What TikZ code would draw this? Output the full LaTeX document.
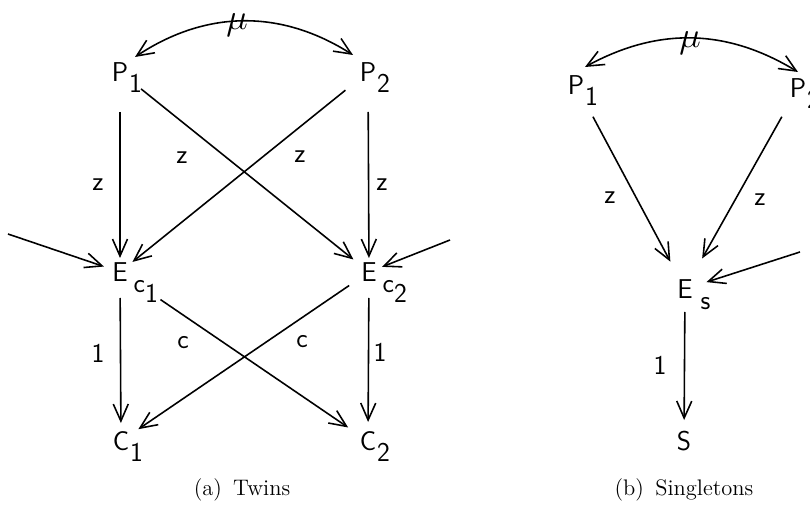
\documentclass[tikz,border=0pt]{standalone}
\usepackage{tikz}
\usetikzlibrary{arrows.meta}
\tikzset{
  lett/.style={font=\sffamily\fontsize{15.5}{18}\selectfont, inner sep=0pt},
  lbl/.style={font=\sffamily\fontsize{15.5}{18}\selectfont, inner sep=0pt},
  mulbl/.style={font=\fontsize{20}{22}\selectfont, inner sep=0pt},
  capt/.style={font=\rmfamily\fontsize{12.8}{15}\selectfont, inner sep=0pt},
  arr/.style={-{Straight Barb[length=3.4mm,width=3mm]}, line width=0.9pt},
  barr/.style={{Straight Barb[length=3.4mm,width=3mm]}-{Straight Barb[length=3.4mm,width=3mm]}, line width=0.9pt}
}
% low subscript that takes no room in the node
\newcommand{\lsub}[2][0pt]{\rlap{\smash{\hspace{#1}\raisebox{-6.5pt}{#2}}}}

\begin{document}
\begin{tikzpicture}[x=0.2mm, y=0.2mm]
  \useasboundingbox (0,0) rectangle (810,-516);

  % (a) twins
  \node[lett] (p1) at (120,-72) {P\lsub[0.5pt]{1}};
  \node[lett] (p2) at (368,-72) {P\lsub[0.5pt]{2}};
  \node[lett] (ec1) at (120,-272) {E\lsub[3.4pt]{c\raisebox{-5.6pt}{1}}};
  \node[lett] (ec2) at (369,-272) {E\lsub[3.4pt]{c\raisebox{-5.6pt}{2}}};
  \node[lett] (c1) at (121,-441) {C\lsub[0.5pt]{1}};
  \node[lett] (c2) at (368,-441) {C\lsub[0.5pt]{2}};
  \coordinate (inl) at (8,-234);
  \coordinate (inr) at (450,-240);

  \node[mulbl] (mua) at (237,-25) {$\mu$};
  \draw[barr] ([shift={(15,15)}]p1.center) to[bend left=33] ([shift={(-15,17)}]p2.center);

  \draw[arr, shorten <=8mm, shorten >=2.8mm] (p1.center) -- (ec1.center);
  \draw[arr, shorten <=8mm, shorten >=2.8mm] (p2.center) -- (ec2.center);
  \draw[arr, shorten <=5.4mm, shorten >=4mm] (p1.center) -- (ec2.center);
  \draw[arr, shorten <=5.8mm, shorten >=3.2mm] (p2.center) -- (ec1.center);
  \draw[arr, shorten >=3.4mm] (inl) -- (ec1.center);
  \draw[arr, shorten >=2.8mm] (inr) -- (ec2.center);
  \draw[arr, shorten <=5.2mm, shorten >=3.6mm] (ec1.center) -- (c1.center);
  \draw[arr, shorten <=5.2mm, shorten >=3.8mm] (ec2.center) -- (c2.center);
  \draw[arr, shorten <=9.8mm, shorten >=4.8mm] (ec1.center) -- (c2.center);
  \draw[arr, shorten <=4.8mm, shorten >=4.2mm] (ec2.center) -- (c1.center);

  \node[lbl] (z1) at (98,-185) {z};
  \node[lbl] (z2) at (182,-158) {z};
  \node[lbl] (z3) at (300,-157) {z};
  \node[lbl] (z4) at (382,-185) {z};
  \node[lbl] (k1) at (183,-343) {c};
  \node[lbl] (k2) at (302,-342) {c};
  \node[lbl] (o1) at (98,-353) {1};
  \node[lbl] (o2) at (380,-352) {1};

  \node[capt] (capa) at (242,-490) {(a)\enspace Twins};

  % (b) singletons
  \node[lett] (q1) at (576,-85) {P\lsub[0.5pt]{1}};
  \node[lett] (q2) at (798,-88) {P\lsub[0.5pt]{2}};
  \node[lett] (es) at (685,-289) {E\lsub[4.5pt]{s}};
  \node[lett] (s) at (684,-441) {S};
  \coordinate (ins) at (800,-252);

  \node[mulbl] (mub) at (690,-43) {$\mu$};
  \draw[barr] ([shift={(9,18)}]q1.center) to[bend left=30] ([shift={(0,16)}]q2.center);

  \draw[arr, shorten <=7.2mm, shorten >=6.2mm] (q1.center) -- (es.center);
  \draw[arr, shorten <=6.6mm, shorten >=7mm] (q2.center) -- (es.center);
  \draw[arr, shorten >=4.5mm] (ins) -- (es.center);
  \draw[arr, shorten <=4.6mm, shorten >=4.2mm] (es.center) -- (s.center);

  \node[lbl] (z5) at (610,-198) {z};
  \node[lbl] (z6) at (760,-200) {z};
  \node[lbl] (o3) at (660,-365) {1};

  \node[capt] (capb) at (684,-490) {(b)\enspace Singletons};
\end{tikzpicture}
\end{document}
